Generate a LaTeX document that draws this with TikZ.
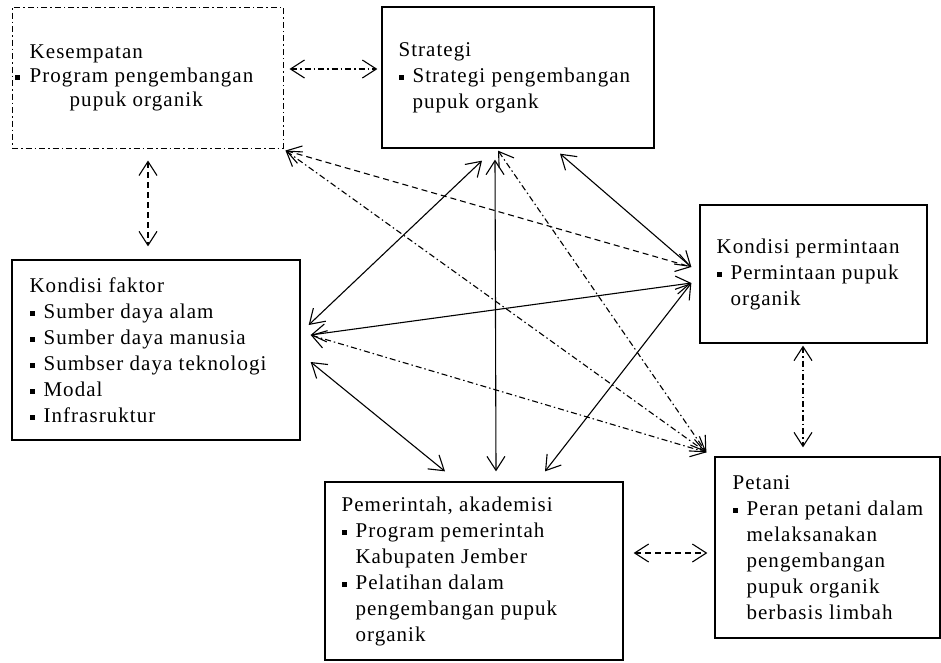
\documentclass[tikz,border=0pt]{standalone}
\usepackage{fontspec}
\setmainfont[LetterSpace=5]{Liberation Serif}
\usepackage{tikz}
\usetikzlibrary{arrows.meta,calc}

\newcommand{\itm}{\makebox[14pt][l]{\rule[2.5pt]{5pt}{5pt}}}
\newcommand{\ind}{\hspace*{14pt}}

\begin{document}
\begin{tikzpicture}[x=1pt,y=-1pt,font=\fontsize{21}{26}\selectfont]
    \tikzstyle{box}=[draw,line width=1.3pt,inner sep=0pt]
    \tikzstyle{kbox}=[draw,line width=1pt,inner sep=0pt,dash pattern=on 6pt off 3pt on 1.5pt off 3pt]
    \tikzstyle{txt}=[anchor=west,inner sep=0pt,align=left]
    \tikzstyle{arr}=[line width=1.1pt,{Straight Barb[length=14pt,width=18pt]}-{Straight Barb[length=14pt,width=18pt]}]
    \tikzstyle{dsh}=[arr,dash pattern=on 6pt off 4pt]
    \tikzstyle{dd}=[arr,dash pattern=on 6pt off 3pt on 1.5pt off 3pt]
    \useasboundingbox (0,0) rectangle (941,662);
    % boxes
    \node[kbox,minimum width=271,minimum height=141] (kes)  at (147.5,77.5) {};
    \node[box,minimum width=272,minimum height=141]  (strat) at (518,77.5) {};
    \node[box,minimum width=227,minimum height=138]  (perm) at (813.5,274) {};
    \node[box,minimum width=288,minimum height=180]  (fak)  at (156,350) {};
    \node[box,minimum width=298,minimum height=178]  (pem)  at (474,571) {};
    \node[box,minimum width=225,minimum height=181]  (pet)  at (827.5,547.5) {};
    % texts
    \node[txt,font=\fontsize{21}{24}\selectfont] (kes-t) at ($(kes.west)+(18,0)$)
      {Kesempatan\\ \llap{\rule[2.5pt]{5pt}{5pt}\hspace{10pt}}Program pengembangan\\ \hspace*{40pt}pupuk organik};
    \node[txt] (strat-t) at ($(strat.west)+(17,0)$)
      {Strategi\\ \itm Strategi pengembangan\\ \ind pupuk organk};
    \node[txt] (perm-t) at ($(perm.west)+(17,0)$)
      {Kondisi permintaan\\ \itm Permintaan pupuk\\ \ind organik};
    \node[txt] (fak-t) at ($(fak.west)+(18,0)$)
      {Kondisi faktor\\ \itm Sumber daya alam\\ \itm Sumber daya manusia\\ \itm Sumbser daya teknologi\\ \itm Modal\\ \itm Infrasruktur};
    \node[txt] (pem-t) at ($(pem.west)+(17,0)$)
      {Pemerintah, akademisi\\ \itm Program pemerintah\\ \ind Kabupaten Jember\\ \itm Pelatihan dalam\\ \ind pengembangan pupuk\\ \ind organik};
    \node[txt] (pet-t) at ($(pet.west)+(18,0)$)
      {Petani\\ \itm Peran petani dalam\\ \ind melaksanakan\\ \ind pengembangan\\ \ind pupuk organik\\ \ind berbasis limbah};
    % solid links
    \draw[arr] ($(strat.south)+(42,5)$) -- ($(perm.west)+(-8,-7)$);
    \draw[arr] ($(fak.east)+(8,-25)$) -- ($(strat.south)+(-36,12)$);
    \draw[arr] ($(fak.east)+(10,-15)$) -- ($(perm.west)+(-8,9)$);
    \draw[arr] ($(fak.east)+(10,12)$) -- ($(pem.north)+(-29,-10)$);
    \draw[arr] ($(strat.south)+(-23,11)$) -- ($(pem.north)+(22,-10)$);
    \draw[arr] ($(pem.north)+(71,-10)$) -- ($(perm.west)+(-8,9)$);
    % dashed links
    \draw[dsh] ($(kes.south)+(0.5,12)$) -- ($(fak.north)+(-8,-13)$);
    \draw[dsh] ($(kes.south east)+(2,2)$) -- ($(perm.west)+(-8,-7)$);
    \draw[dsh] ($(pem.east)+(10,-18)$) -- ($(pet.west)+(-7,5.5)$);
    % dash-dot links
    \draw[dd] ($(kes.east)+(6,-8.5)$) -- ($(strat.west)+(-4,-8.5)$);
    \draw[dd] ($(kes.south east)+(2,2)$) -- ($(pet.north west)+(-8,-4)$);
    \draw[dd] ($(strat.south)+(-20,2)$) -- ($(pet.north west)+(-8,-4)$);
    \draw[dd] ($(fak.east)+(10,-15)$) -- ($(pet.north west)+(-8,-4)$);
    \draw[dd] ($(perm.south)+(-10.5,2)$) -- ($(pet.north)+(-24.5,-9)$);
\end{tikzpicture}
\end{document}
